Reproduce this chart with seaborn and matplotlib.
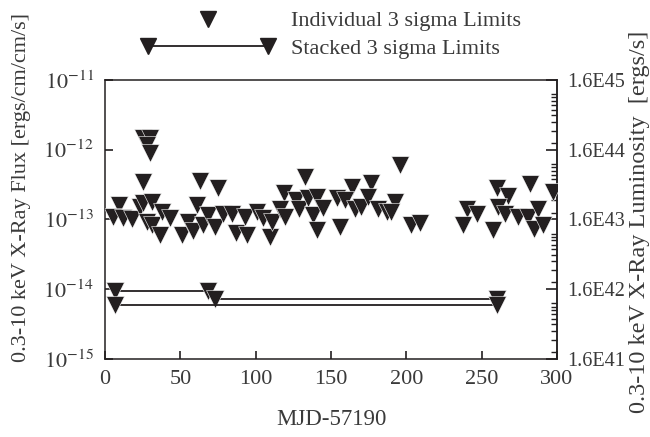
import numpy as np
import pandas as pd
import matplotlib
matplotlib.use('Agg')
import matplotlib.pyplot as plt
import seaborn as sns
from matplotlib.lines import Line2D
from matplotlib.legend_handler import HandlerLine2D
from matplotlib.ticker import FixedLocator, NullLocator, NullFormatter, FuncFormatter, LogLocator

# individual 3 sigma upper limits
mjd_ind = [25.4, 29.9, 27.6, 29.9,
           25, 63, 75, 133, 119, 9, 5.5, 12, 18, 23, 25.5, 31, 27.7, 31, 37.6, 36.5,
           43, 51, 55, 58.6, 61, 65, 68.5, 73, 78.5, 84, 87, 94, 93, 100.6, 105, 109.5,
           110.6, 116, 119.4, 127, 129, 135, 140.5, 138, 140.5, 145,
           195.8, 163.7, 176.5, 153.7, 159, 166, 170, 174.7, 181, 187, 192.4, 190, 156,
           203, 209, 240, 246.6, 237.8, 260, 267.6, 261, 265.4, 257.7, 282, 274, 281,
           287.5, 285, 291, 297.5]
flux_ind = [1.46e-12, 1.46e-12, 1.17e-12, 8.9e-13,
            3.5e-13, 3.6e-13, 2.8e-13, 4.1e-13, 2.4e-13, 1.6e-13, 1.1e-13, 1.05e-13, 1.0e-13,
            1.5e-13, 1.7e-13, 1.8e-13, 9.3e-14, 8.3e-14, 1.3e-13, 6.0e-14,
            1.05e-13, 6.0e-14, 9.3e-14, 6.8e-14, 1.6e-13, 8.3e-14, 1.15e-13, 7.9e-14, 1.2e-13,
            1.2e-13, 6.3e-14, 6.0e-14, 1.1e-13, 1.3e-13, 1.05e-13, 5.6e-14,
            9.3e-14, 1.4e-13, 1.1e-13, 1.9e-13, 1.4e-13, 2.0e-13, 2.1e-13, 1.15e-13, 7.1e-14, 1.45e-13,
            6.0e-13, 2.9e-13, 3.3e-13, 2.0e-13, 1.9e-13, 1.4e-13, 1.5e-13, 2.1e-13, 1.4e-13,
            1.3e-13, 1.8e-13, 1.3e-13, 7.9e-14,
            8.3e-14, 8.9e-14, 1.4e-13, 1.2e-13, 8.3e-14, 2.8e-13, 2.2e-13, 1.5e-13, 1.2e-13,
            7.1e-14, 3.2e-13, 1.1e-13, 1.1e-13, 1.4e-13, 7.4e-14, 8.3e-14, 2.5e-13]

# stacked 3 sigma limits: start / end of each stack
stack_start = [6.6, 73, 6.6]
stack_end = [68.6, 260, 260]
stack_flux = [9.4e-15, 7.3e-15, 5.9e-15]

lum_factor = 1.6e56
dark = '#231f20'
txt = '#3a3a3a'

sns.set_theme(style='ticks')
plt.rcParams['font.family'] = ['Liberation Serif', 'DejaVu Serif']
plt.rcParams['mathtext.fontset'] = 'stix'

fig = plt.figure(figsize=(6.5, 4.37), dpi=100)
ax = fig.add_axes([0.1615, 0.1785, 0.6955, 0.6385])
ax.set_yscale('log')

ind = pd.DataFrame({'mjd': mjd_ind, 'flux': flux_ind})
sns.scatterplot(data=ind, x='mjd', y='flux', marker='v', s=165, color=dark,
                edgecolor='white', linewidth=0.4, ax=ax, zorder=3)

rows = []
for i, (a, b, f) in enumerate(zip(stack_start, stack_end, stack_flux)):
    rows.append({'seg': i, 'mjd': a, 'flux': f})
    rows.append({'seg': i, 'mjd': b, 'flux': f})
stk = pd.DataFrame(rows)
sns.lineplot(data=stk, x='mjd', y='flux', units='seg', estimator=None, sort=False,
             color=dark, lw=1.3, marker='v', markersize=12.8, markeredgecolor='white',
             markeredgewidth=0.4, ax=ax)

ax.set_xlim(0, 300)
ax.set_ylim(1e-15, 1e-11)
ax.set_xticks(range(0, 301, 50))
ax.yaxis.set_major_locator(FixedLocator([1e-15, 1e-14, 1e-13, 1e-12, 1e-11]))
ax.yaxis.set_minor_locator(NullLocator())
ax.yaxis.set_major_formatter(FuncFormatter(lambda v, p: r'$10^{%d}$' % round(np.log10(v))))
ax.tick_params(direction='in', length=6, width=1.2, labelsize=16, colors=dark,
               labelcolor=txt, pad=8)
ax.tick_params(axis='x', pad=8)
for sp in ax.spines.values():
    sp.set_visible(True)
    sp.set_linewidth(1.1)
    sp.set_color(dark)

ax.set_xlabel('MJD-57190', fontsize=16.5, color=txt, labelpad=14)
ax.set_ylabel('0.3-10 keV X-Ray Flux [ergs/cm/cm/s]', fontsize=16, color=txt)
ax.yaxis.set_label_coords(-0.163, 0.613)

sec = ax.secondary_yaxis('right', functions=(lambda f: f * lum_factor, lambda l: l / lum_factor))
sec.set_yscale('log')
sec.yaxis.set_major_locator(FixedLocator([1.6e41, 1.6e42, 1.6e43, 1.6e44, 1.6e45]))
sec.yaxis.set_major_formatter(FuncFormatter(lambda v, p: '1.6E%d' % round(np.log10(v / 1.6))))
sec.yaxis.set_minor_locator(LogLocator(base=10, subs=np.arange(1, 10)))
sec.yaxis.set_minor_formatter(NullFormatter())
sec.tick_params(which='major', direction='in', length=8, width=1.2, labelsize=14.5,
                colors=dark, labelcolor=txt, pad=7)
sec.tick_params(which='minor', direction='in', length=4, width=1.0, colors=dark)
sec.spines['right'].set_linewidth(1.1)
sec.set_ylabel('0.3-10 keV X-Ray Luminosity  [ergs/s]', fontsize=17.5, color=txt)
sec.yaxis.set_label_coords(1.16, 0.49, transform=ax.transAxes)

h1 = Line2D([], [], ls='none', marker='v', color=dark, markersize=11)
h2 = Line2D([], [], ls='-', marker='v', color=dark, markersize=11, lw=1.3)
leg = ax.legend([h1, h2], ['Individual 3 sigma Limits', 'Stacked 3 sigma Limits'],
                handler_map={h2: HandlerLine2D(numpoints=2)}, loc='lower left',
                bbox_to_anchor=(0.06, 1.045), frameon=False, fontsize=16,
                handlelength=6.0, handletextpad=0.75, labelspacing=0.3, borderaxespad=0)
for t in leg.get_texts():
    t.set_color(txt)

fig.savefig('out.png', dpi=100)
